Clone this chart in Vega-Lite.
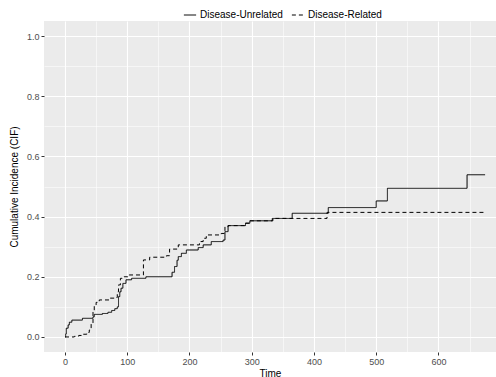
{
  "$schema": "https://vega.github.io/schema/vega-lite/v6.json",
  "width": 452,
  "height": 331,
  "autosize": {"type": "none"},
  "padding": {"left": 44, "top": 21, "right": 0, "bottom": 25},
  "background": "white",
  "config": {
    "view": {"fill": "#EBEBEB", "stroke": null},
    "font": "Liberation Sans",
    "axis": {
      "domain": false,
      "gridColor": "white",
      "tickColor": "#333333",
      "tickSize": 3,
      "labelColor": "#4D4D4D",
      "labelFontSize": 9,
      "titleFontSize": 10,
      "titleFontWeight": "normal",
      "titleColor": "black"
    }
  },
  "data": {
    "values": [
      {"group": "Disease-Unrelated", "time": 0, "cif": 0},
      {"group": "Disease-Unrelated", "time": 1, "cif": 0.01},
      {"group": "Disease-Unrelated", "time": 2, "cif": 0.029},
      {"group": "Disease-Unrelated", "time": 5, "cif": 0.04},
      {"group": "Disease-Unrelated", "time": 7, "cif": 0.049},
      {"group": "Disease-Unrelated", "time": 11, "cif": 0.056},
      {"group": "Disease-Unrelated", "time": 28, "cif": 0.062},
      {"group": "Disease-Unrelated", "time": 45, "cif": 0.067},
      {"group": "Disease-Unrelated", "time": 47, "cif": 0.075},
      {"group": "Disease-Unrelated", "time": 60, "cif": 0.078},
      {"group": "Disease-Unrelated", "time": 69, "cif": 0.082},
      {"group": "Disease-Unrelated", "time": 75, "cif": 0.088},
      {"group": "Disease-Unrelated", "time": 80, "cif": 0.094},
      {"group": "Disease-Unrelated", "time": 84, "cif": 0.1},
      {"group": "Disease-Unrelated", "time": 86, "cif": 0.134},
      {"group": "Disease-Unrelated", "time": 88, "cif": 0.15},
      {"group": "Disease-Unrelated", "time": 90, "cif": 0.162},
      {"group": "Disease-Unrelated", "time": 93, "cif": 0.178},
      {"group": "Disease-Unrelated", "time": 98, "cif": 0.19},
      {"group": "Disease-Unrelated", "time": 107, "cif": 0.195},
      {"group": "Disease-Unrelated", "time": 130, "cif": 0.2},
      {"group": "Disease-Unrelated", "time": 172, "cif": 0.215},
      {"group": "Disease-Unrelated", "time": 176, "cif": 0.234},
      {"group": "Disease-Unrelated", "time": 180, "cif": 0.255},
      {"group": "Disease-Unrelated", "time": 182, "cif": 0.267},
      {"group": "Disease-Unrelated", "time": 187, "cif": 0.278},
      {"group": "Disease-Unrelated", "time": 195, "cif": 0.289},
      {"group": "Disease-Unrelated", "time": 214, "cif": 0.297},
      {"group": "Disease-Unrelated", "time": 222, "cif": 0.306},
      {"group": "Disease-Unrelated", "time": 235, "cif": 0.317},
      {"group": "Disease-Unrelated", "time": 254, "cif": 0.322},
      {"group": "Disease-Unrelated", "time": 257, "cif": 0.35},
      {"group": "Disease-Unrelated", "time": 262, "cif": 0.37},
      {"group": "Disease-Unrelated", "time": 290, "cif": 0.378},
      {"group": "Disease-Unrelated", "time": 297, "cif": 0.386},
      {"group": "Disease-Unrelated", "time": 333, "cif": 0.394},
      {"group": "Disease-Unrelated", "time": 365, "cif": 0.411},
      {"group": "Disease-Unrelated", "time": 423, "cif": 0.43},
      {"group": "Disease-Unrelated", "time": 500, "cif": 0.452},
      {"group": "Disease-Unrelated", "time": 518, "cif": 0.494},
      {"group": "Disease-Unrelated", "time": 646, "cif": 0.539},
      {"group": "Disease-Unrelated", "time": 675, "cif": 0.539},
      {"group": "Disease-Related", "time": 0, "cif": 0},
      {"group": "Disease-Related", "time": 15, "cif": 0.002},
      {"group": "Disease-Related", "time": 22, "cif": 0.005},
      {"group": "Disease-Related", "time": 28, "cif": 0.009},
      {"group": "Disease-Related", "time": 35, "cif": 0.015},
      {"group": "Disease-Related", "time": 39, "cif": 0.023},
      {"group": "Disease-Related", "time": 42, "cif": 0.045},
      {"group": "Disease-Related", "time": 45, "cif": 0.084},
      {"group": "Disease-Related", "time": 47, "cif": 0.106},
      {"group": "Disease-Related", "time": 50, "cif": 0.115},
      {"group": "Disease-Related", "time": 55, "cif": 0.123},
      {"group": "Disease-Related", "time": 71, "cif": 0.129},
      {"group": "Disease-Related", "time": 82, "cif": 0.131},
      {"group": "Disease-Related", "time": 84, "cif": 0.15},
      {"group": "Disease-Related", "time": 86, "cif": 0.173},
      {"group": "Disease-Related", "time": 89, "cif": 0.195},
      {"group": "Disease-Related", "time": 95, "cif": 0.2},
      {"group": "Disease-Related", "time": 103, "cif": 0.206},
      {"group": "Disease-Related", "time": 126, "cif": 0.256},
      {"group": "Disease-Related", "time": 136, "cif": 0.265},
      {"group": "Disease-Related", "time": 163, "cif": 0.27},
      {"group": "Disease-Related", "time": 168, "cif": 0.292},
      {"group": "Disease-Related", "time": 182, "cif": 0.306},
      {"group": "Disease-Related", "time": 216, "cif": 0.317},
      {"group": "Disease-Related", "time": 222, "cif": 0.328},
      {"group": "Disease-Related", "time": 227, "cif": 0.339},
      {"group": "Disease-Related", "time": 251, "cif": 0.344},
      {"group": "Disease-Related", "time": 257, "cif": 0.366},
      {"group": "Disease-Related", "time": 262, "cif": 0.37},
      {"group": "Disease-Related", "time": 290, "cif": 0.378},
      {"group": "Disease-Related", "time": 297, "cif": 0.386},
      {"group": "Disease-Related", "time": 334, "cif": 0.394},
      {"group": "Disease-Related", "time": 421, "cif": 0.414},
      {"group": "Disease-Related", "time": 675, "cif": 0.414}
    ]
  },
  "mark": {"type": "line", "interpolate": "step-after", "color": "black", "strokeWidth": 1, "clip": true},
  "encoding": {
    "x": {
      "field": "time",
      "type": "quantitative",
      "title": "Time",
      "scale": {"domain": [-33.75, 692.5], "nice": false, "zero": false},
      "axis": {
        "values": [0, 50, 100, 150, 200, 250, 300, 350, 400, 450, 500, 550, 600, 650],
        "labelExpr": "datum.value % 100 === 0 ? datum.label : ''",
        "gridWidth": {"condition": {"test": "datum.value % 100 !== 0", "value": 0.55}, "value": 1.1},
        "tickOpacity": {"condition": {"test": "datum.value % 100 !== 0", "value": 0}, "value": 1},
        "labelPadding": 2,
        "titlePadding": 2
      }
    },
    "y": {
      "field": "cif",
      "type": "quantitative",
      "title": "Cumulative Incidence (CIF)",
      "scale": {"domain": [-0.05, 1.05], "nice": false, "zero": false},
      "axis": {
        "values": [0, 0.1, 0.2, 0.3, 0.4, 0.5, 0.6, 0.7, 0.8, 0.9, 1.0],
        "labelExpr": "round(datum.value * 10) % 2 === 0 ? format(datum.value, '.1f') : ''",
        "gridWidth": {"condition": {"test": "round(datum.value * 10) % 2 !== 0", "value": 0.55}, "value": 1.1},
        "tickOpacity": {"condition": {"test": "round(datum.value * 10) % 2 !== 0", "value": 0}, "value": 1},
        "labelPadding": 2,
        "titlePadding": 7
      }
    },
    "strokeDash": {
      "field": "group",
      "type": "nominal",
      "scale": {"domain": ["Disease-Unrelated", "Disease-Related"], "range": [[1, 0], [4, 3]]},
      "legend": {
        "title": null,
        "orient": "none",
        "direction": "horizontal",
        "legendX": 139,
        "legendY": -13,
        "labelFontSize": 10,
        "labelColor": "black",
        "symbolType": "stroke",
        "symbolSize": 150,
        "symbolStrokeColor": "black",
        "symbolStrokeWidth": 1,
        "columnPadding": 6,
        "labelOffset": 3
      }
    }
  }
}
